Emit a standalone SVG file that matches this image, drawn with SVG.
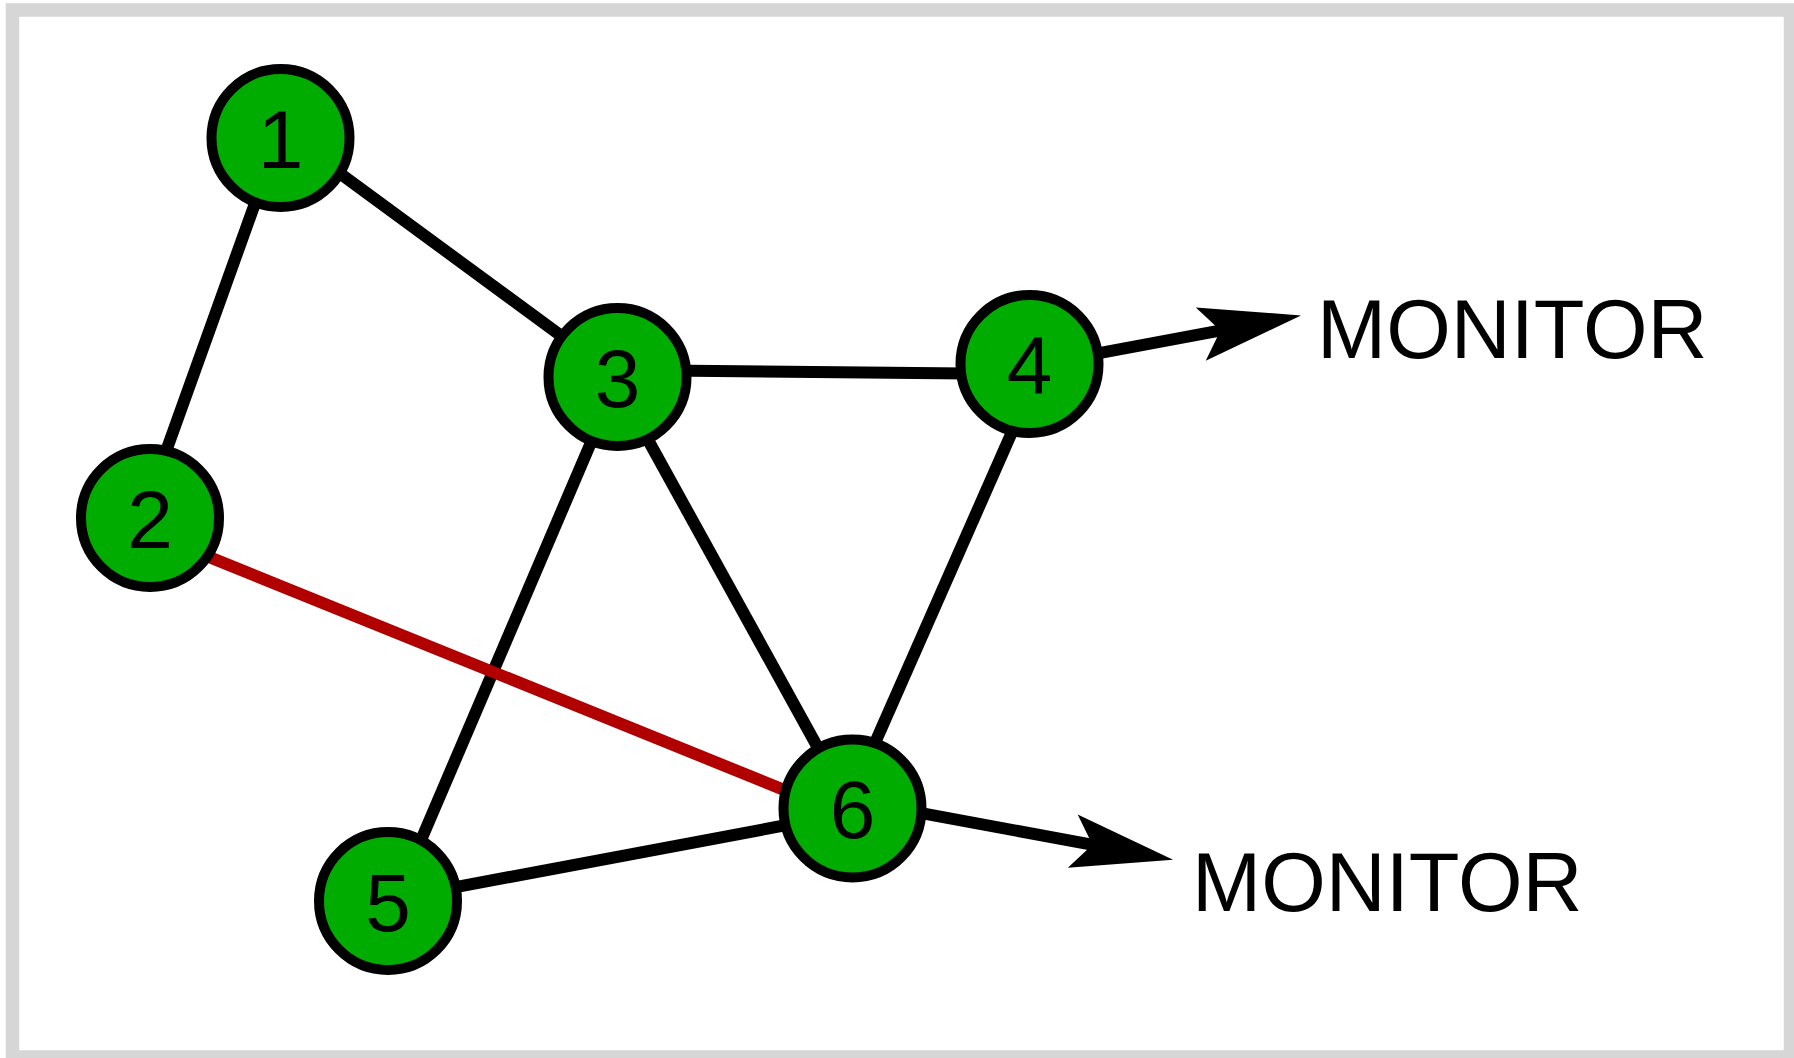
<svg xmlns="http://www.w3.org/2000/svg" width="1794" height="1058" viewBox="0 0 1794 1058">
  <style>
    .edge { stroke: #000000; stroke-width: 12; fill: none; }
    .edge.alt { stroke: #B00000; }
    .node circle { fill: #00AC00; stroke: #000000; stroke-width: 10; }
    .node text { font-family: "Liberation Sans", Arial, sans-serif; font-size: 82px; fill: #000000; text-anchor: middle; }
    .label { font-family: "Liberation Sans", Arial, sans-serif; font-size: 83px; fill: #000000; }
  </style>
  <defs>
    <marker id="arrow" markerUnits="userSpaceOnUse" viewBox="-104 -30 108 60" markerWidth="108" markerHeight="60" refX="-80" refY="0" orient="auto">
      <path d="M0,0 L-102,-27 L-82,0 L-102,27 Z" fill="#000000"/>
    </marker>
  </defs>

  <!-- frame -->
  <rect x="12.5" y="10" width="1778" height="1047" fill="#FFFFFF" stroke="#D6D6D6" stroke-width="13.5"/>

  <!-- connectors (ends tucked under the node discs) -->
  <g id="connectors">
    <line class="edge" x1="258" y1="195" x2="164.7" y2="455"/>
    <line class="edge" x1="280" y1="129.3" x2="600" y2="364.4"/>
    <line class="edge" x1="617" y1="370" x2="1029" y2="374"/>
    <line class="edge" x1="619" y1="377" x2="395" y2="901"/>
    <line class="edge" x1="613.3" y1="377" x2="851.2" y2="808"/>
    <line class="edge" x1="1042" y1="364" x2="846.3" y2="808"/>
    <line class="edge" x1="388" y1="899.8" x2="852.5" y2="812.7"/>
    <line class="edge alt" x1="150" y1="533.1" x2="852.5" y2="817.6"/>
    <line class="edge" x1="1029.5" y1="366.2" x2="1222.4" y2="330.1" marker-end="url(#arrow)"/>
    <line class="edge" x1="852.5" y1="800.4" x2="1094.4" y2="845.1" marker-end="url(#arrow)"/>
  </g>

  <!-- nodes -->
  <g id="node-1" class="node">
    <circle cx="280.5" cy="138" r="69"/>
    <text x="280.5" y="167.5">1</text>
  </g>
  <g id="node-2" class="node">
    <circle cx="150" cy="518" r="69"/>
    <text x="150" y="547.5">2</text>
  </g>
  <g id="node-3" class="node">
    <circle cx="617.5" cy="377" r="69"/>
    <text x="617.5" y="406.5">3</text>
  </g>
  <g id="node-4" class="node">
    <circle cx="1029.5" cy="364" r="69"/>
    <text x="1029.5" y="393.5">4</text>
  </g>
  <g id="node-5" class="node">
    <circle cx="388" cy="901" r="69"/>
    <text x="388" y="930.5">5</text>
  </g>
  <g id="node-6" class="node">
    <circle cx="852.5" cy="808.5" r="69"/>
    <text x="852.5" y="838">6</text>
  </g>

  <!-- output labels -->
  <text id="monitor-4" class="label" x="1317" y="357.5">MONITOR</text>
  <text id="monitor-6" class="label" x="1192" y="911">MONITOR</text>
</svg>
